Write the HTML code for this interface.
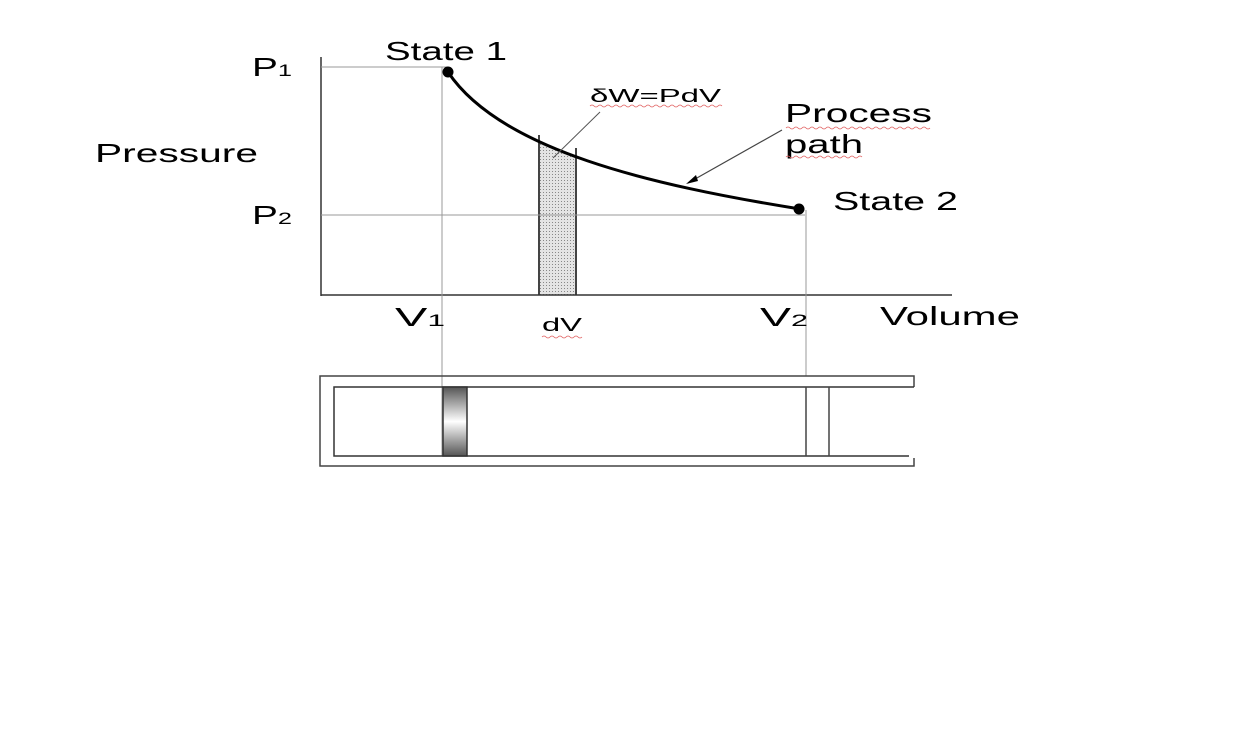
<!DOCTYPE html>
<html><head><meta charset="utf-8"><style>
html,body{margin:0;padding:0;background:#fff;}
svg{display:block;}
text{font-family:"Liberation Sans",Arial,sans-serif;fill:#000;}
</style></head><body>
<svg width="1242" height="742" viewBox="0 0 1242 742" xmlns="http://www.w3.org/2000/svg">
<defs>
<pattern id="dots" width="3" height="3" patternUnits="userSpaceOnUse">
<rect width="3" height="3" fill="#e4e4e4"/><rect width="1" height="1" fill="#888"/>
</pattern>
<linearGradient id="pg" x1="0" y1="0" x2="0" y2="1">
<stop offset="0" stop-color="#555"/><stop offset="0.5" stop-color="#fff"/><stop offset="1" stop-color="#555"/>
</linearGradient>
<clipPath id="under"><path d="M448,72 C500,150 650,185 800,209 L800,295 L448,295 Z"/></clipPath>
</defs>
<rect x="539" y="100" width="37" height="195" fill="url(#dots)" clip-path="url(#under)"/>
<line x1="539" y1="135" x2="539" y2="295" stroke="#444" stroke-width="2"/>
<line x1="576" y1="148" x2="576" y2="295" stroke="#444" stroke-width="2"/>
<line x1="321" y1="57" x2="321" y2="296" stroke="#333" stroke-width="1.5"/>
<line x1="321" y1="295" x2="952" y2="295" stroke="#333" stroke-width="1.5"/>
<line x1="321" y1="67" x2="448" y2="67" stroke="#999" stroke-width="1"/>
<line x1="321" y1="215" x2="805" y2="215" stroke="#999" stroke-width="1"/>
<line x1="442" y1="67" x2="442" y2="456" stroke="#999" stroke-width="1"/>
<line x1="806" y1="210" x2="806" y2="376" stroke="#999" stroke-width="1"/>
<path d="M448,72 C500,150 650,185 800,209" fill="none" stroke="#000" stroke-width="3"/>
<circle cx="448" cy="72" r="5.5" fill="#000"/>
<circle cx="799" cy="209" r="5.5" fill="#000"/>
<line x1="600" y1="112" x2="553" y2="158" stroke="#555" stroke-width="1"/>
<line x1="782" y1="130" x2="688" y2="183" stroke="#444" stroke-width="1.2"/>
<polygon points="686,184 696,175 698,181" fill="#000"/>
<text x="252" y="76" font-size="26" textLength="40" lengthAdjust="spacingAndGlyphs">P<tspan font-size="17">1</tspan></text>
<text x="252" y="224" font-size="26" textLength="40" lengthAdjust="spacingAndGlyphs">P<tspan font-size="17">2</tspan></text>
<text x="95" y="162" font-size="26" textLength="163" lengthAdjust="spacingAndGlyphs">Pressure</text>
<text x="385" y="60" font-size="26" textLength="122" lengthAdjust="spacingAndGlyphs">State 1</text>
<text x="833" y="210" font-size="26" textLength="125" lengthAdjust="spacingAndGlyphs">State 2</text>
<text x="590" y="102" font-size="18" textLength="131" lengthAdjust="spacingAndGlyphs">δW=PdV</text>
<text x="785" y="122" font-size="26" textLength="147" lengthAdjust="spacingAndGlyphs">Process</text>
<text x="785" y="153" font-size="26" textLength="78" lengthAdjust="spacingAndGlyphs">path</text>
<text x="395" y="326" font-size="26" textLength="50" lengthAdjust="spacingAndGlyphs">V<tspan font-size="17">1</tspan></text>
<text x="760" y="326" font-size="26" textLength="48" lengthAdjust="spacingAndGlyphs">V<tspan font-size="17">2</tspan></text>
<text x="542" y="331" font-size="18" textLength="40" lengthAdjust="spacingAndGlyphs">dV</text>
<text x="880" y="325" font-size="26" textLength="140" lengthAdjust="spacingAndGlyphs">Volume</text>
<path d="M590,106 q2,-2 4,0 t4,0 t4,0 t4,0 t4,0 t4,0 t4,0 t4,0 t4,0 t4,0 t4,0 t4,0 t4,0 t4,0 t4,0 t4,0 t4,0 t4,0 t4,0 t4,0 t4,0 t4,0 t4,0 t4,0 t4,0 t4,0 t4,0 t4,0 t4,0 t4,0 t4,0 t4,0 t4,0" fill="none" stroke="#e06060" stroke-width="0.8"/>
<path d="M786,128 q2,-2 4,0 t4,0 t4,0 t4,0 t4,0 t4,0 t4,0 t4,0 t4,0 t4,0 t4,0 t4,0 t4,0 t4,0 t4,0 t4,0 t4,0 t4,0 t4,0 t4,0 t4,0 t4,0 t4,0 t4,0 t4,0 t4,0 t4,0 t4,0 t4,0 t4,0 t4,0 t4,0 t4,0 t4,0 t4,0 t4,0" fill="none" stroke="#e06060" stroke-width="0.8"/>
<path d="M786,157 q2,-2 4,0 t4,0 t4,0 t4,0 t4,0 t4,0 t4,0 t4,0 t4,0 t4,0 t4,0 t4,0 t4,0 t4,0 t4,0 t4,0 t4,0 t4,0 t4,0" fill="none" stroke="#e06060" stroke-width="0.8"/>
<path d="M542,337 q2,-2 4,0 t4,0 t4,0 t4,0 t4,0 t4,0 t4,0 t4,0 t4,0 t4,0" fill="none" stroke="#e06060" stroke-width="0.8"/>
<path d="M914,387 L914,376 L320,376 L320,466 L914,466 L914,458" fill="none" stroke="#444" stroke-width="1.5"/>
<path d="M914,387 L334,387 L334,456 L909,456" fill="none" stroke="#333" stroke-width="1.5"/>
<rect x="443" y="387" width="24" height="69" fill="url(#pg)" stroke="#333" stroke-width="1.5"/>
<line x1="806" y1="387" x2="806" y2="456" stroke="#444" stroke-width="1.5"/>
<line x1="829" y1="387" x2="829" y2="456" stroke="#444" stroke-width="1.5"/>
</svg>
</body></html>
